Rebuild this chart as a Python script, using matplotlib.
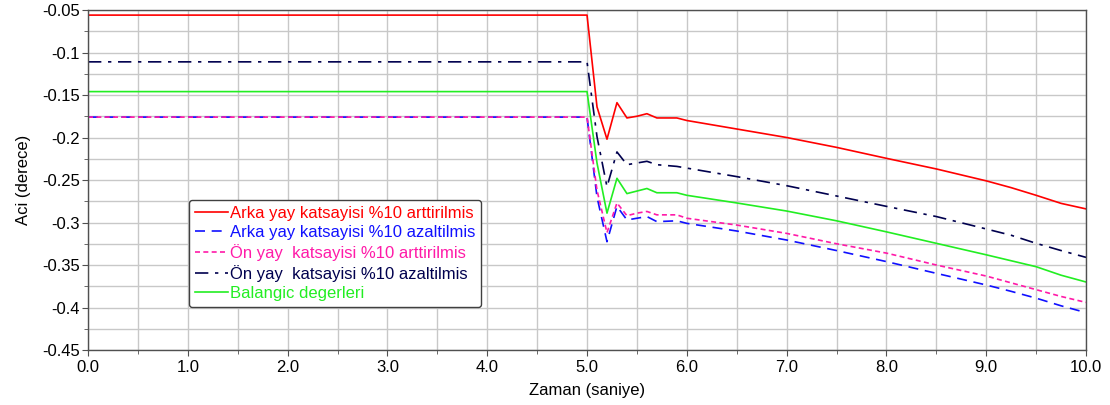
import numpy as np
import matplotlib
matplotlib.use("Agg")
import matplotlib.pyplot as plt
from matplotlib.ticker import MultipleLocator, FuncFormatter

plt.rcParams['font.family'] = ['Liberation Sans', 'DejaVu Sans']
plt.rcParams['axes.unicode_minus'] = False

# time samples (s)
zaman = [0.0, 5.0, 5.1, 5.2, 5.3, 5.4, 5.5, 5.6, 5.7, 5.9, 6.0,
         6.5, 7.0, 7.5, 8.0, 8.5, 9.0, 9.25, 9.5, 9.75, 10.0]

# steering angle responses (deg)
arka_arttir = [-0.056, -0.056, -0.164, -0.202, -0.159, -0.177, -0.175, -0.172, -0.177, -0.177, -0.180,
               -0.190, -0.200, -0.2116, -0.2245, -0.237, -0.251, -0.259, -0.268, -0.2775, -0.284]
arka_azalt = [-0.176, -0.176, -0.270, -0.3226, -0.281, -0.297, -0.295, -0.293, -0.299, -0.298, -0.301,
              -0.310, -0.3206, -0.333, -0.346, -0.3598, -0.3735, -0.381, -0.389, -0.398, -0.406]
on_arttir = [-0.176, -0.176, -0.262, -0.312, -0.277, -0.292, -0.289, -0.287, -0.291, -0.291, -0.295,
             -0.303, -0.3128, -0.325, -0.336, -0.350, -0.363, -0.371, -0.379, -0.387, -0.394]
on_azalt = [-0.111, -0.111, -0.199, -0.258, -0.217, -0.232, -0.230, -0.228, -0.232, -0.234, -0.236,
            -0.246, -0.2567, -0.2688, -0.281, -0.293, -0.3076, -0.315, -0.3245, -0.333, -0.341]
balangic = [-0.146, -0.146, -0.230, -0.289, -0.248, -0.266, -0.263, -0.260, -0.265, -0.265, -0.268,
            -0.277, -0.2865, -0.298, -0.311, -0.3245, -0.338, -0.345, -0.352, -0.362, -0.370]

etiketler = ["Arka yay katsayisi %10 arttirilmis",
             "Arka yay katsayisi %10 azaltilmis",
             "Ön yay  katsayisi %10 arttirilmis",
             "Ön yay  katsayisi %10 azaltilmis",
             "Balangic degerleri"]
renkler = ["#ff0000", "#1010ff", "#ff1aa8", "#00004e", "#22ee22"]
stiller = ["-", (0, (6, 4)), (0, (3, 2)), (0, (8, 4, 2, 4)), "-"]

fig = plt.figure(figsize=(11.1, 4.05), dpi=100)
ax = fig.add_axes([0.0793, 0.1358, 0.8991, 0.8395])

seriler = [arka_arttir, arka_azalt, on_arttir, on_azalt, balangic]
for veri, etiket, renk, stil in zip(seriler, etiketler, renkler, stiller):
    ax.plot(zaman, veri, color=renk, linestyle=stil, linewidth=1.2, label=etiket)

ax.set_xlim(0, 10)
ax.set_ylim(-0.45, -0.05)
ax.xaxis.set_major_locator(MultipleLocator(1.0))
ax.xaxis.set_minor_locator(MultipleLocator(0.5))
ax.yaxis.set_major_locator(MultipleLocator(0.05))
ax.yaxis.set_minor_locator(MultipleLocator(0.025))
ax.xaxis.set_major_formatter(FuncFormatter(lambda v, p: "%.1f" % v))
ax.yaxis.set_major_formatter(FuncFormatter(lambda v, p: "%g" % round(v, 3)))

ax.grid(True, which="both", color="#c8c8c8", linewidth=1.0)
ax.set_axisbelow(True)
for s in ax.spines.values():
    s.set_color("#505050")
    s.set_linewidth(1.0)
ax.tick_params(which="major", direction="out", length=4, color="#505050", labelsize=12)
ax.tick_params(which="minor", direction="out", length=3, color="#505050")
ax.tick_params(axis="x", pad=3)
ax.tick_params(axis="y", pad=2)

ax.set_xlabel("Zaman (saniye)", fontsize=12, labelpad=6)
ax.set_ylabel("Aci (derece)", fontsize=12, labelpad=8)

leg = ax.legend(loc="upper left", bbox_to_anchor=(0.101, 0.442), fontsize=12,
                handlelength=2.0, handletextpad=0.1, labelspacing=0.25,
                borderpad=0.35, borderaxespad=0, fancybox=True, framealpha=1,
                edgecolor="#404040")
for txt, renk in zip(leg.get_texts(), renkler):
    txt.set_color(renk)

fig.savefig("out.png", dpi=100)
